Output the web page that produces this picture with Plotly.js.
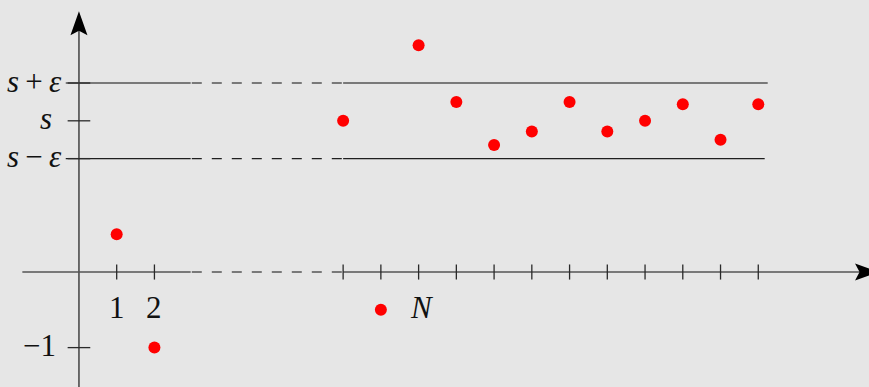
<!DOCTYPE html>
<html>
<head>
<meta charset="utf-8">
<script src="https://cdn.plot.ly/plotly-3.0.1.min.js"></script>
<style>
  html, body { margin: 0; padding: 0; background: #e6e6e6; }
  #chart { width: 869px; height: 387px; }
</style>
</head>
<body>
<div id="chart"></div>
<script>
// Convergence of a sequence: terms u_n enter the band [s - eps, s + eps] after index N.
const s = 2;
const eps = 0.5;

// sequence terms (index, value)
const termIndex = [1, 2, 7, 9, 10, 11, 12, 13, 14, 15, 16, 17, 18];
const termValue = [0.5, -1, 2, 3, 2.25, 1.68, 1.86, 2.25, 1.86, 2, 2.22, 1.75, 2.22];

// marker that names the threshold index N
const markerN = { x: 8, y: -0.5, label: '<i>N</i>', labelX: 9 };

// tick marks on the index axis
const xTickVals = [1, 2, 7, 8, 9, 10, 11, 12, 13, 14, 15, 16, 17, 18];
const xLabelVals = [1, 2];
const xLabelText = ['1', '2'];

// tick marks and labels on the value axis
const yTickVals = [s + eps, s, s - eps, -1];
const yTickText = ['<i>s</i>\u2009+\u2009<i>ε</i>', '<i>s</i>', '<i>s</i>\u2009−\u2009<i>ε</i>', '−1'];
const yLabelShift = [-15, -25, -15, -21];

// the elided stretch of indices between 2 and 7
const gapStart = 3;
const gapEnd = 7;

// axis extents
const xAxisFrom = -1.5, xAxisTip = 21.2;
const yAxisFrom = -1.7, yAxisTip = 3.45;
const bandFrom = -0.35;
const bandUpperTo = 18.25, bandLowerTo = 18.17;

const axisColor = '#555555';
const FONT = '"Liberation Serif", "DejaVu Serif", serif';
const FONT_SIZE = 31;

const traces = [];

function seg(x, y, color, width, dash) {
  traces.push({
    type: 'scatter', mode: 'lines', x: x, y: y,
    line: { color: color, width: width, dash: dash || 'solid' },
    hoverinfo: 'skip', showlegend: false
  });
}

// a horizontal line broken by a dashed stretch over the elided indices
function brokenLine(y, from, to, color, width) {
  seg([from, gapStart - 0.04], [y, y], color, width);
  seg([gapStart - 0.01, gapEnd], [y, y], color, width, '10px,10px');
  seg([gapEnd, to], [y, y], color, width);
}

// index axis
brokenLine(0, xAxisFrom, xAxisTip - 0.5, axisColor, 1.7);
// value axis
seg([0, 0], [yAxisFrom, yAxisTip - 0.25], axisColor, 1.7);

// band boundaries
brokenLine(s + eps, bandFrom, bandUpperTo, '#555555', 1.4);
brokenLine(s - eps, bandFrom, bandLowerTo, '#1f1f1f', 1.4);

// index ticks
xTickVals.forEach(v => seg([v, v], [-0.1, 0.1], '#2a2a2a', 1.3));
// value ticks
yTickVals.forEach(v => seg([-0.3, 0.3], [v, v], '#2a2a2a', 1.3));

// sequence terms
traces.push({
  type: 'scatter', mode: 'markers', x: termIndex, y: termValue,
  marker: { color: '#ff0000', size: 12 },
  hoverinfo: 'x+y', showlegend: false
});
traces.push({
  type: 'scatter', mode: 'markers', x: [markerN.x], y: [markerN.y],
  marker: { color: '#ff0000', size: 12 },
  hoverinfo: 'skip', showlegend: false
});

const annotations = [];
xLabelVals.forEach((v, i) => annotations.push({
  x: v, y: 0, xref: 'x', yref: 'y', text: xLabelText[i], showarrow: false,
  xanchor: 'center', yanchor: 'middle', yshift: -35,
  font: { family: FONT, size: FONT_SIZE, color: '#111' }
}));
yTickVals.forEach((v, i) => annotations.push({
  x: 0, y: v, xref: 'x', yref: 'y', text: yTickText[i], showarrow: false,
  xanchor: 'right', yanchor: 'middle', xshift: yLabelShift[i], yshift: 2,
  font: { family: FONT, size: FONT_SIZE, color: '#111' }
}));
annotations.push({
  x: markerN.labelX, y: markerN.y, xref: 'x', yref: 'y', text: markerN.label,
  showarrow: false, xanchor: 'center', yanchor: 'middle', xshift: 3, yshift: 2,
  font: { family: FONT, size: FONT_SIZE, color: '#111' }
});

// arrow heads drawn in pixels around the axis tips
const shapes = [
  {
    type: 'path', xref: 'x', yref: 'y', xsizemode: 'pixel', ysizemode: 'pixel',
    xanchor: 0, yanchor: yAxisTip,
    path: 'M0,0 L8.5,-24 L0,-19.5 L-8.5,-24 Z',
    fillcolor: '#000', line: { width: 0 }
  },
  {
    type: 'path', xref: 'x', yref: 'y', xsizemode: 'pixel', ysizemode: 'pixel',
    xanchor: xAxisTip, yanchor: 0,
    path: 'M0,0 L-24,8.5 L-19.5,0 L-24,-8.5 Z',
    fillcolor: '#000', line: { width: 0 }
  }
];

const layout = {
  width: 869, height: 387,
  margin: { l: 0, r: 0, t: 0, b: 0, pad: 0 },
  paper_bgcolor: '#e6e6e6', plot_bgcolor: '#e6e6e6',
  xaxis: { range: [-2.092, 20.934], visible: false, fixedrange: true },
  yaxis: { range: [-1.521, 3.598], visible: false, fixedrange: true },
  showlegend: false,
  annotations: annotations,
  shapes: shapes
};

Plotly.newPlot('chart', traces, layout, { displayModeBar: false, staticPlot: true });
</script>
</body>
</html>
